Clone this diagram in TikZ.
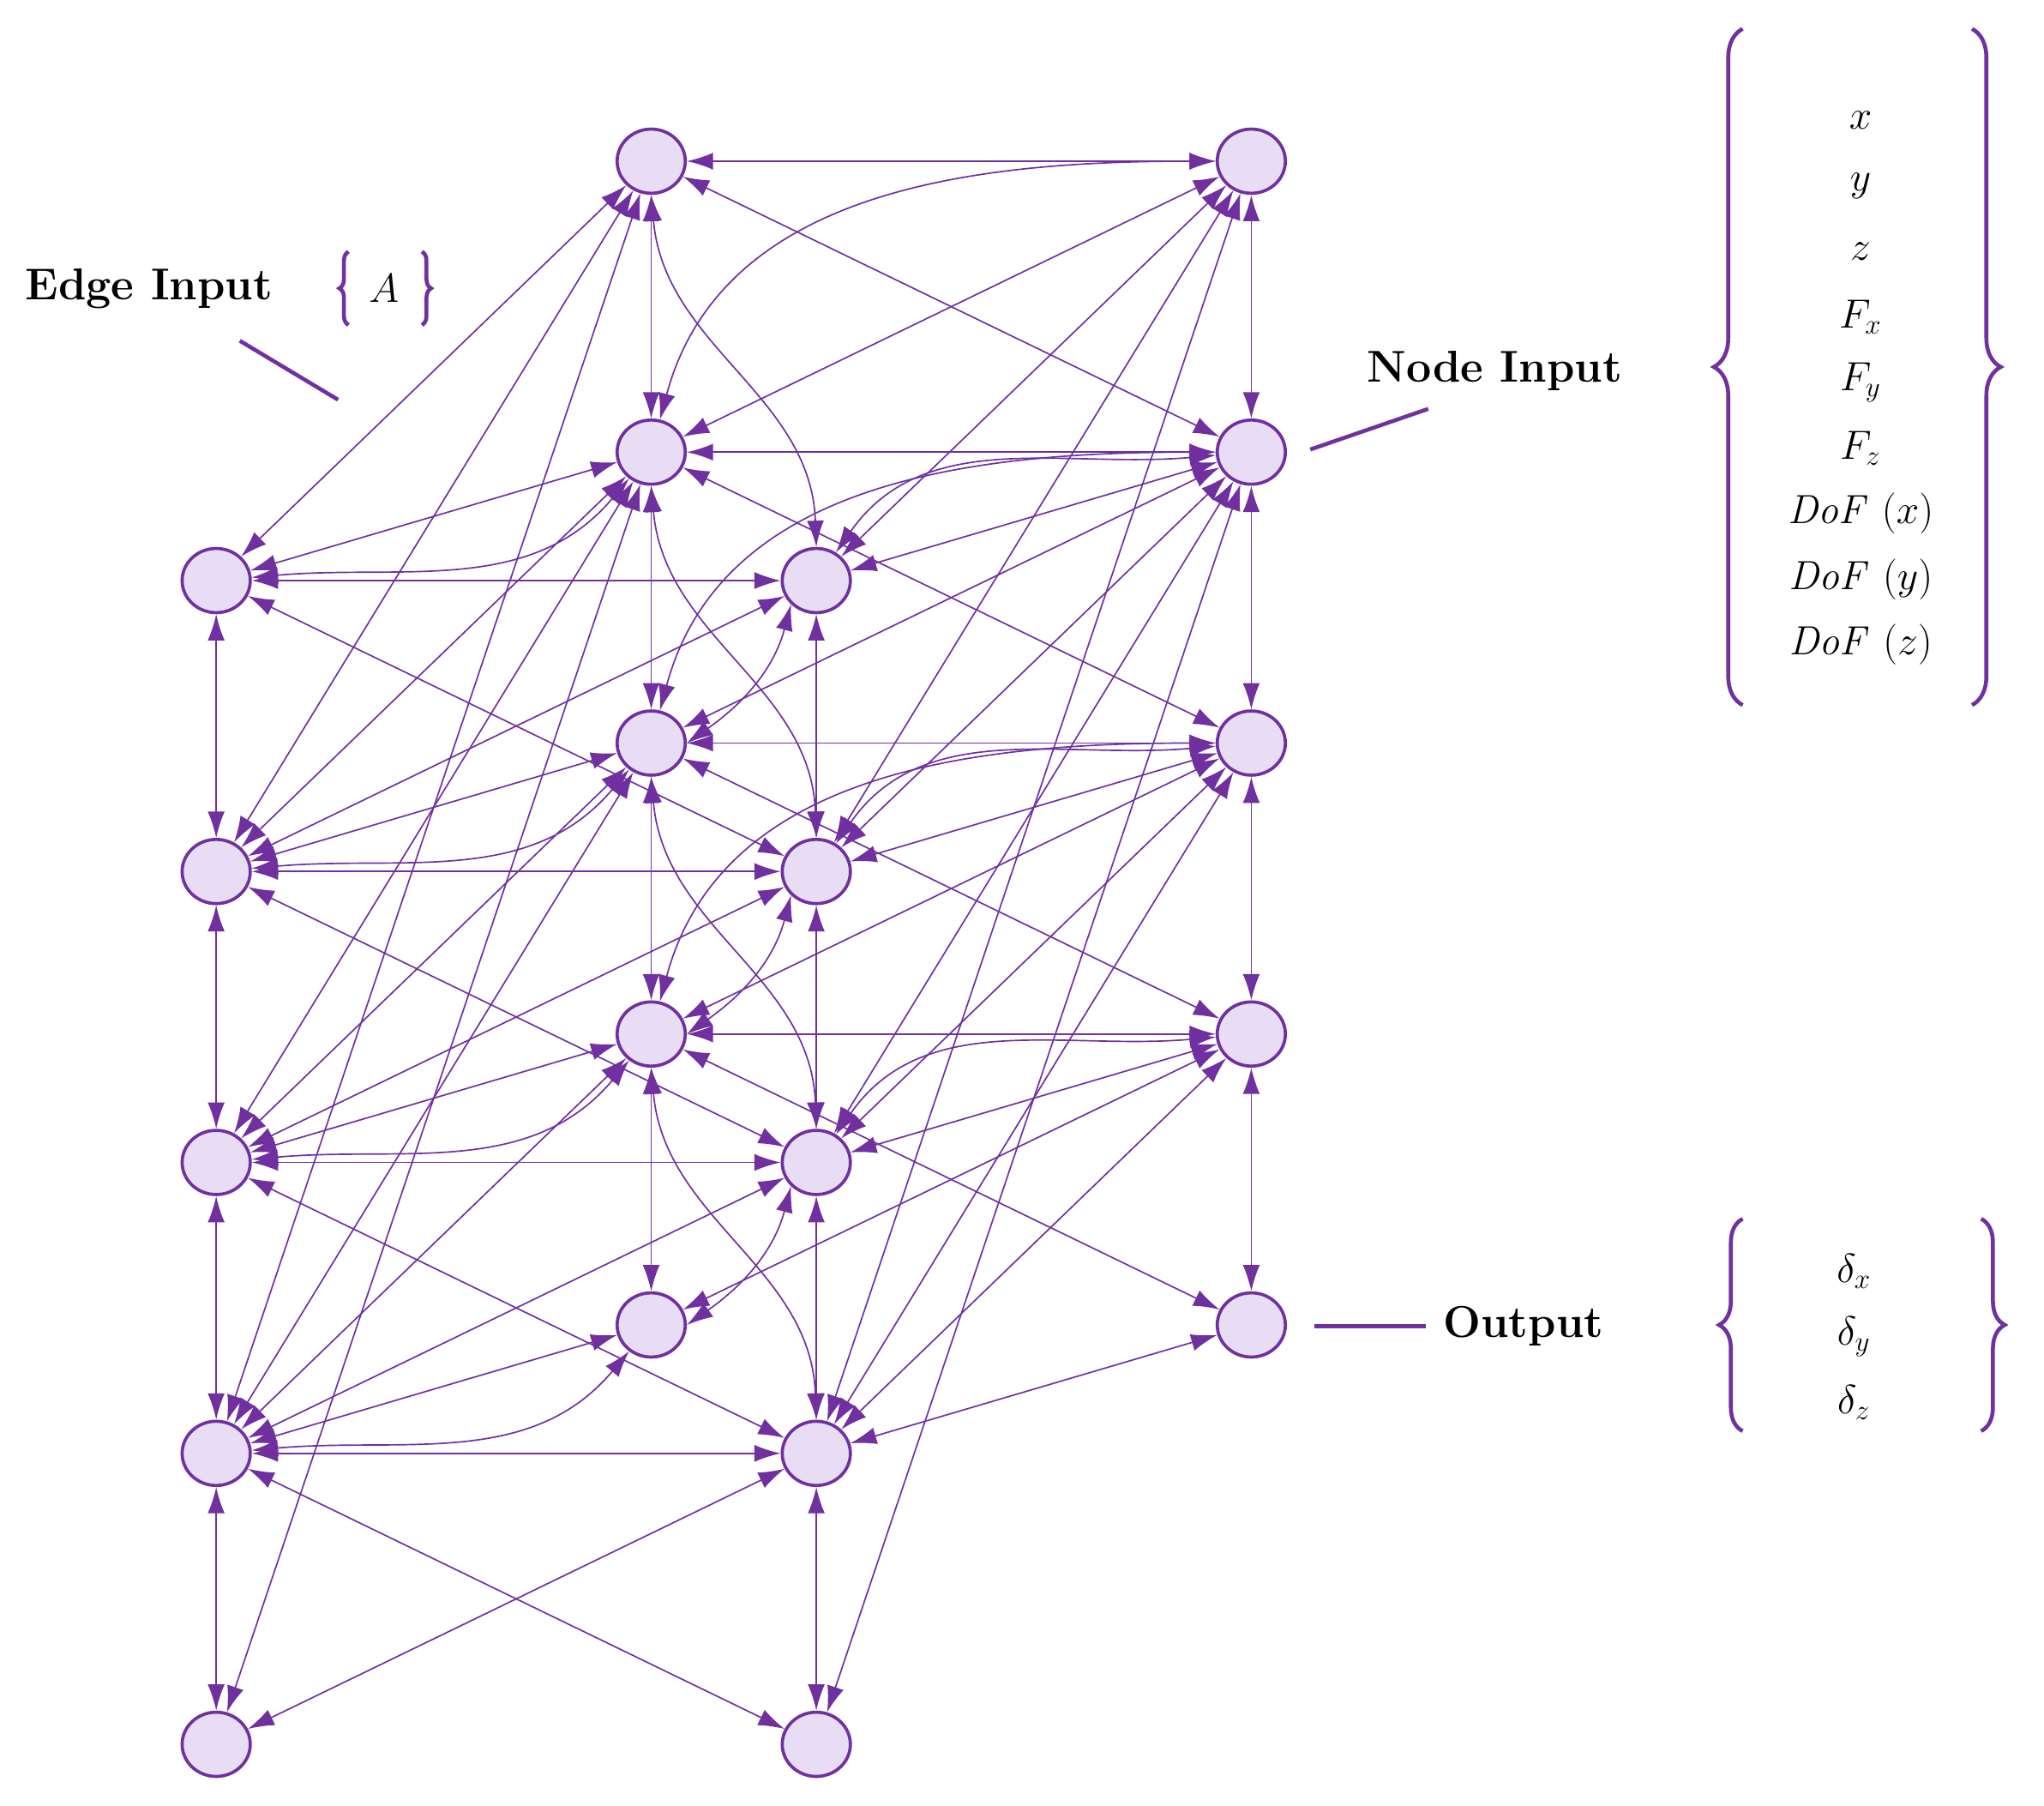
\documentclass[tikz,border=0pt]{standalone}
\usepackage{amsmath}
\usepackage{graphicx}
\usetikzlibrary{shapes.geometric,arrows.meta,decorations.pathreplacing}
\definecolor{vio}{HTML}{7030A0}
\definecolor{lil}{HTML}{E9DDF5}
\newcommand{\vecm}[1]{\scalebox{1.8}{\LARGE$#1$}}
\tikzset{
  nd/.style={ellipse,draw=vio,fill=lil,line width=2.4pt,minimum width=52pt,minimum height=49pt,inner sep=0pt},
  ed/.style={draw=vio,line width=1.1pt,{Latex[length=20pt,width=13pt]}-{Latex[length=20pt,width=13pt]}},
  lab/.style={font=\fontsize{34}{40}\selectfont\bfseries},
  br/.style={draw=vio,line width=3pt,decorate,decoration={brace,amplitude=#1}},
}
\begin{document}
\begin{tikzpicture}[x=1pt,y=-1pt]
\useasboundingbox (0,0) rectangle (1560,1378);
% nodes
\foreach \i in {0,...,4}{
  \node[nd] (A\i) at (165,443+222*\i) {};
  \node[nd] (C\i) at (623,443+222*\i) {};
  \node[nd] (B\i) at (497,123+222*\i) {};
  \node[nd] (D\i) at (955,123+222*\i) {};
}
% verticals and horizontals
\foreach \i [evaluate=\i as \j using int(\i+1)] in {0,...,3}{
  \draw[ed] (A\i) -- (A\j);
  \draw[ed] (B\i) -- (B\j);
  \draw[ed] (C\i) -- (C\j);
  \draw[ed] (D\i) -- (D\j);
  \draw[ed] (A\i) -- (C\i);
  \draw[ed] (B\i) -- (D\i);
  \draw[ed] (A\i) -- (B\i);
  \draw[ed] (C\i) -- (D\i);
  \draw[ed] (A\i) -- (B\j);
  \draw[ed] (A\i) to[out=5,in=-130] (B\j);
  \draw[ed] (C\i) -- (D\j);
  \draw[ed] (B\i) -- (D\j);
  \draw[ed] (D\i) -- (B\j);
  \draw[ed] (A\i) -- (C\j);
  \draw[ed] (C\i) -- (A\j);
  \draw[ed] (B\i.south) to[out=-85,in=92] (C\i.north);
}
\foreach \i [evaluate=\i as \j using int(\i+1), evaluate=\i as \k using int(\i+2)] in {0,...,2}{
  \draw[ed] (B\i) -- (A\j);
  \draw[ed] (D\i) -- (C\j);
  \draw[ed] (D\i) to[out=180,in=75] (B\j);
  \draw[ed] (C\i) to[out=55,in=185] (D\j);
  \draw[ed] (C\i.south west) to[out=-105,in=35] (B\k.east);
}
% long steep connectors
\draw[ed] (B0) -- (A3);
\draw[ed] (B1) -- (A4);
\draw[ed] (D0) -- (C3);
\draw[ed] (D1) -- (C4);
% labels
\node[lab,anchor=west] (ei) at (16,220) {Edge Input};
\node (av) at (293,220) {\vecm{A}};
\draw[br=7pt] (266,248) -- (266,192);
\draw[br=7pt] (322,192) -- (322,248);
\draw[vio,line width=3pt] (183,260) -- (258,305);
\node[lab,anchor=west] (ni) at (1040,283) {Node Input};
\draw[vio,line width=3pt] (1000,343) -- (1090,312);
\draw[br=22pt] (1330,538) -- (1330,22);
\draw[br=22pt] (1505,22) -- (1505,538);
\foreach \t [count=\n] in {x,y,z,F_x,F_y,F_z,\mathit{DoF}\ (x),\mathit{DoF}\ (y),\mathit{DoF}\ (z)}
  \node (v\n) at (1420,42+50*\n) {\vecm{\t}};
\draw[vio,line width=3pt] (1003,1012) -- (1088,1012);
\node[lab,anchor=west] (out) at (1098,1012) {Output};
\draw[br=18pt] (1330,1092) -- (1330,930);
\draw[br=18pt] (1512,930) -- (1512,1092);
\foreach \t [count=\n] in {\delta_x,\delta_y,\delta_z}
  \node (o\n) at (1415,920+50*\n) {\vecm{\t}};
\end{tikzpicture}
\end{document}
